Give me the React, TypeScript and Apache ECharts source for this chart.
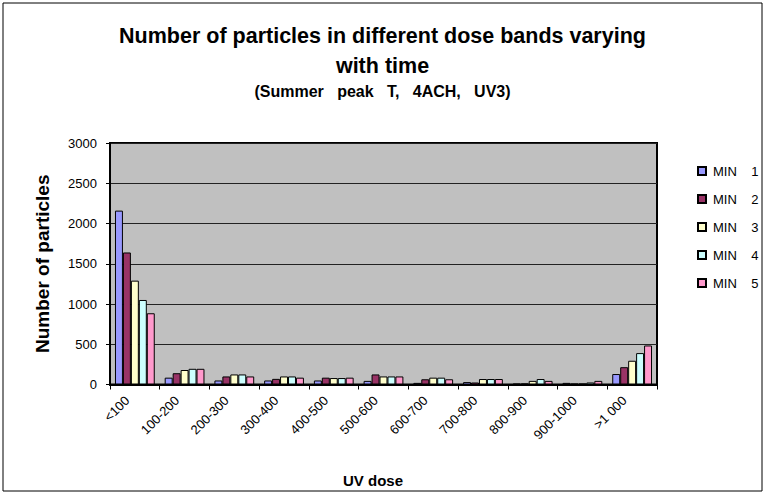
import React, { useEffect, useRef } from "react";
import * as echarts from "echarts";

const categories = ["<100", "100-200", "200-300", "300-400", "400-500", "500-600", "600-700", "700-800", "800-900", "900-1000", ">1 000"];
const seriesNames = ["MIN 1", "MIN 2", "MIN 3", "MIN 4", "MIN 5"];
const min1 = [2160, 85, 50, 50, 50, 45, 20, 30, 10, 20, 130];
const min2 = [1640, 140, 100, 70, 85, 125, 65, 25, 12, 10, 215];
const min3 = [1290, 180, 125, 100, 80, 100, 85, 68, 45, 10, 295];
const min4 = [1050, 195, 125, 100, 80, 100, 85, 68, 68, 25, 390];
const min5 = [885, 195, 100, 85, 85, 100, 65, 68, 45, 45, 485];
const yTicks = [0, 500, 1000, 1500, 2000, 2500, 3000];
const colors = ["#9999FF", "#993366", "#FFFFCC", "#CCFFFF", "#FF99CC"];

const FONT = "'Liberation Sans', Arial, sans-serif";

export default function App() {
  const ref = useRef<HTMLDivElement>(null);
  useEffect(() => {
    if (!ref.current) return;
    const chart = echarts.init(ref.current, undefined, { renderer: "svg" });
    const data = [min1, min2, min3, min4, min5];
    chart.setOption({
      animation: false,
      backgroundColor: "#fff",
      textStyle: { fontFamily: FONT },
      title: [
        {
          text: "Number of particles in different dose bands varying\nwith time",
          left: "center",
          top: 21,
          padding: 0,
          textStyle: { fontFamily: FONT, fontSize: 21.5, fontWeight: "bold", color: "#000", lineHeight: 30 },
        },
        {
          text: "(Summer   peak   T,   4ACH,   UV3)",
          left: "center",
          top: 82,
          padding: 0,
          textStyle: { fontFamily: FONT, fontSize: 16, fontWeight: "bold", color: "#000", lineHeight: 18 },
        },
      ],
      legend: {
        orient: "vertical",
        left: 697,
        top: 164,
        padding: 0,
        itemWidth: 8,
        itemHeight: 8,
        itemGap: 14,
        icon: "rect",
        data: seriesNames,
        formatter: (n: string) => n.replace(" ", "    "),
        textStyle: { fontFamily: FONT, fontSize: 13, color: "#000", lineHeight: 14, padding: [0, 0, 0, 2] },
      },
      grid: {
        left: 110,
        top: 143,
        right: 108,
        bottom: 109.5,
        show: true,
        backgroundColor: "#C0C0C0",
        borderColor: "#000",
        borderWidth: 2,
      },
      xAxis: {
        type: "category",
        data: categories,
        axisLine: { lineStyle: { color: "#000", width: 2 } },
        axisTick: { show: true, length: 5, lineStyle: { color: "#000" } },
        axisLabel: {
          rotate: 45,
          interval: 0,
          fontSize: 13,
          color: "#000",
          fontFamily: FONT,
          margin: 6,
          padding: [0, 11, 0, 0],
        },
        splitLine: { show: false },
      },
      yAxis: {
        type: "value",
        min: yTicks[0],
        max: yTicks[yTicks.length - 1],
        interval: 500,
        name: "Number of particles",
        nameLocation: "middle",
        nameRotate: 90,
        nameGap: 58,
        nameTextStyle: { fontFamily: FONT, fontSize: 19, fontWeight: "bold", color: "#000" },
        axisLine: { show: true, lineStyle: { color: "#000", width: 2 } },
        axisTick: { show: true, length: 4, lineStyle: { color: "#000" } },
        axisLabel: { fontSize: 13, color: "#000", fontFamily: FONT, margin: 13, formatter: (v: number) => String(v) },
        splitLine: { show: true, lineStyle: { color: "#222", width: 1 } },
      },
      series: seriesNames.map((name, i) => ({
        name,
        type: "bar",
        data: data[i],
        barGap: "0%",
        barCategoryGap: "20%",
        itemStyle: { color: colors[i], borderColor: "#000", borderWidth: 1 },
      })),
      graphic: [
        {
          type: "rect",
          shape: { x: 3, y: 3, width: 759, height: 488 },
          style: { fill: "none", stroke: "#000", lineWidth: 1 },
          silent: true,
        },
        {
          type: "text",
          x: 373,
          y: 480,
          style: {
            text: "UV dose",
            fontFamily: FONT,
            fontSize: 15,
            fontWeight: "bold",
            fill: "#000",
            align: "center",
            verticalAlign: "middle",
          },
        },
      ],
    });
    return () => chart.dispose();
  }, []);
  return <div ref={ref} style={{ position: "fixed", left: 0, top: 0, width: 765, height: 494 }} />;
}
